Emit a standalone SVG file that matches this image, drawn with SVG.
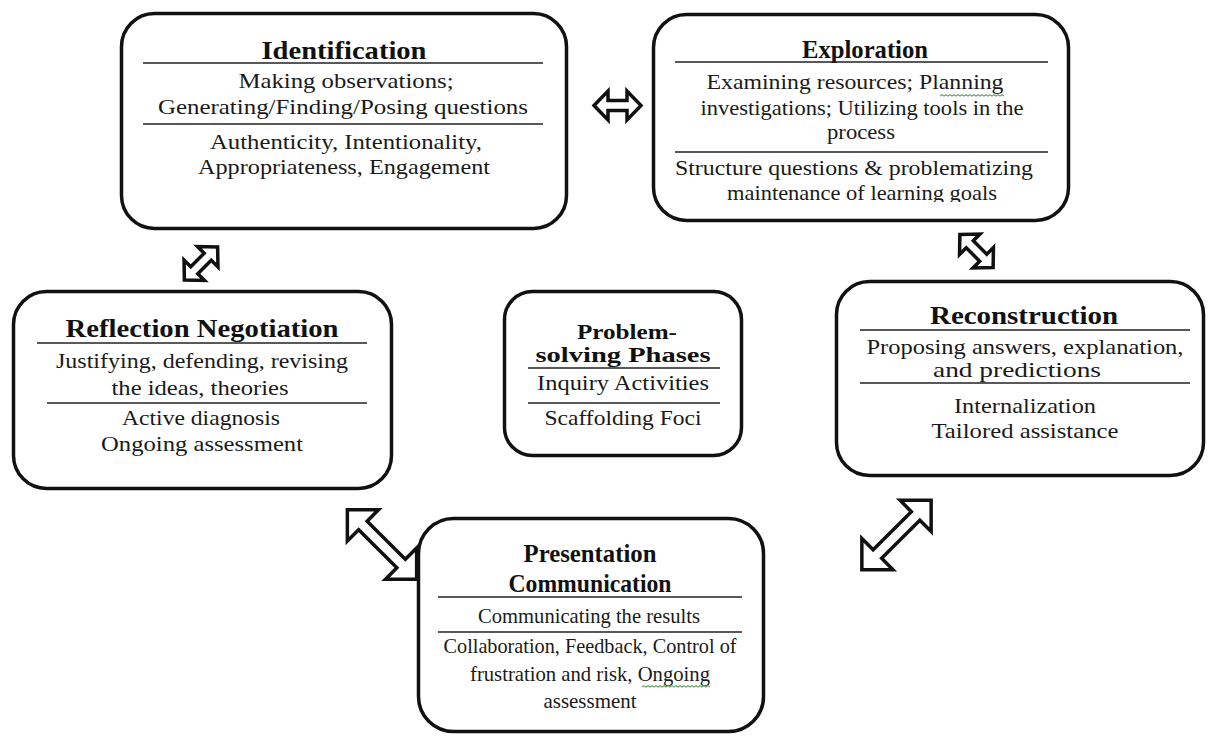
<svg xmlns="http://www.w3.org/2000/svg" xmlns:xlink="http://www.w3.org/1999/xlink" width="1209" height="736" viewBox="0 0 1209 736">
<style>
.box{fill:#fff;stroke:#111;stroke-width:3.5}
.dv{stroke:#222;stroke-width:1.6}
.t{font-family:"Liberation Serif","DejaVu Serif",serif;font-size:21px;fill:#1a1a1a;text-anchor:middle}
.h{font-weight:bold;font-size:25px;fill:#111}
.hs{font-size:20.5px}
.arr{fill:#fff;stroke:#111;stroke-width:3.5;stroke-linejoin:miter}
.sq{fill:none;stroke:#6aa86a;stroke-width:1.2}
</style>
<defs>
<path id="arS" d="M -23.5 0 L -9.5 -14.5 L -9.5 -5 L 9.5 -5 L 9.5 -14.5 L 23.5 0 L 9.5 14.5 L 9.5 5 L -9.5 5 L -9.5 14.5 Z"/>
<path id="arL" d="M -49 0 L -27 -22 L -27 -6 L 27 -6 L 27 -22 L 49 0 L 27 22 L 27 6 L -27 6 L -27 22 Z"/>
<clipPath id="clipExp"><rect x="650" y="10" width="430" height="192"/></clipPath>
</defs>
<rect width="1209" height="736" fill="#fff"/>

<g id="connectors">
<use xlink:href="#arS" class="arr" transform="translate(617.5,105.5)"/>
<use xlink:href="#arS" class="arr" transform="translate(201,263.5) rotate(-45)"/>
<use xlink:href="#arS" class="arr" transform="translate(976.5,251) rotate(45)"/>
<use xlink:href="#arL" class="arr" transform="translate(382,544.5) rotate(45)"/>
<use xlink:href="#arL" class="arr" transform="translate(896.5,535) rotate(-45)"/>
</g>

<g id="identification">
<rect class="box" x="121.5" y="13.5" width="445" height="215" rx="33"/>
<text class="t h" x="344" y="59" textLength="165" lengthAdjust="spacingAndGlyphs">Identification</text>
<line class="dv" x1="143" y1="63" x2="543" y2="63"/>
<text class="t" x="346" y="88" textLength="215" lengthAdjust="spacingAndGlyphs">Making observations;</text>
<text class="t" x="343" y="114" textLength="370" lengthAdjust="spacingAndGlyphs">Generating/Finding/Posing questions</text>
<line class="dv" x1="143" y1="124" x2="543" y2="124"/>
<text class="t" x="346" y="149" textLength="272" lengthAdjust="spacingAndGlyphs">Authenticity, Intentionality,</text>
<text class="t" x="344" y="174" textLength="292" lengthAdjust="spacingAndGlyphs">Appropriateness, Engagement</text>
</g>

<g id="exploration">
<rect class="box" x="653.5" y="14.5" width="415" height="206" rx="33"/>
<text class="t h" x="865" y="58" textLength="126" lengthAdjust="spacingAndGlyphs">Exploration</text>
<line class="dv" x1="675" y1="62" x2="1048" y2="62"/>
<text class="t" x="855" y="89" textLength="297" lengthAdjust="spacingAndGlyphs">Examining resources; Planning</text>
<path class="sq" d="M940 96 l2 -1.3 l2 1.3 l2 -1.3 l2 1.3 l2 -1.3 l2 1.3 l2 -1.3 l2 1.3 l2 -1.3 l2 1.3 l2 -1.3 l2 1.3 l2 -1.3 l2 1.3 l2 -1.3 l2 1.3 l2 -1.3 l2 1.3 l2 -1.3 l2 1.3 l2 -1.3 l2 1.3 l2 -1.3 l2 1.3 l2 -1.3 l2 1.3 l2 -1.3 l2 1.3 l2 -1.3 l2 1.3 l2 -1.3 l2 1.3"/>
<text class="t" x="862" y="115" textLength="323" lengthAdjust="spacingAndGlyphs">investigations; Utilizing tools in the</text>
<text class="t" x="861" y="139" textLength="68" lengthAdjust="spacingAndGlyphs">process</text>
<line class="dv" x1="675" y1="152" x2="1048" y2="152"/>
<text class="t" x="854" y="175" textLength="358" lengthAdjust="spacingAndGlyphs">Structure questions &amp; problematizing</text>
<text class="t" x="862" y="200" textLength="270" lengthAdjust="spacingAndGlyphs" clip-path="url(#clipExp)">maintenance of learning goals</text>
</g>

<g id="reflection">
<rect class="box" x="13.5" y="291.5" width="378" height="197" rx="33"/>
<text class="t h" x="202" y="337" textLength="273" lengthAdjust="spacingAndGlyphs">Reflection Negotiation</text>
<line class="dv" x1="37" y1="343" x2="367" y2="343"/>
<text class="t" x="202" y="368" textLength="292" lengthAdjust="spacingAndGlyphs">Justifying, defending, revising</text>
<text class="t" x="200" y="395" textLength="177" lengthAdjust="spacingAndGlyphs">the ideas, theories</text>
<line class="dv" x1="47" y1="403" x2="367" y2="403"/>
<text class="t" x="201" y="425" textLength="158" lengthAdjust="spacingAndGlyphs">Active diagnosis</text>
<text class="t" x="202" y="451" textLength="202" lengthAdjust="spacingAndGlyphs">Ongoing assessment</text>
</g>

<g id="problem-solving">
<rect class="box" x="504.5" y="291.5" width="237" height="164" rx="28"/>
<text class="t h hs" x="627" y="339" textLength="100" lengthAdjust="spacingAndGlyphs">Problem-</text>
<text class="t h hs" x="623" y="362" textLength="175" lengthAdjust="spacingAndGlyphs">solving Phases</text>
<line class="dv" x1="528" y1="368" x2="720" y2="368"/>
<text class="t" x="623" y="390" textLength="172" lengthAdjust="spacingAndGlyphs">Inquiry Activities</text>
<line class="dv" x1="528" y1="403" x2="720" y2="403"/>
<text class="t" x="623" y="425" textLength="157" lengthAdjust="spacingAndGlyphs">Scaffolding Foci</text>
</g>

<g id="reconstruction">
<rect class="box" x="836.5" y="281.5" width="367" height="194" rx="33"/>
<text class="t h" x="1024" y="324" textLength="188" lengthAdjust="spacingAndGlyphs">Reconstruction</text>
<line class="dv" x1="860" y1="330" x2="1190" y2="330"/>
<text class="t" x="1025" y="354" textLength="317" lengthAdjust="spacingAndGlyphs">Proposing answers, explanation,</text>
<text class="t" x="1017" y="377" textLength="168" lengthAdjust="spacingAndGlyphs">and predictions</text>
<line class="dv" x1="860" y1="383" x2="1190" y2="383"/>
<text class="t" x="1025" y="413" textLength="142" lengthAdjust="spacingAndGlyphs">Internalization</text>
<text class="t" x="1025" y="438" textLength="187" lengthAdjust="spacingAndGlyphs">Tailored assistance</text>
</g>

<g id="presentation">
<rect class="box" x="418.5" y="518.5" width="345" height="213" rx="35"/>
<text class="t h" x="590" y="562" textLength="133" lengthAdjust="spacingAndGlyphs">Presentation</text>
<text class="t h" x="590" y="592" textLength="163" lengthAdjust="spacingAndGlyphs">Communication</text>
<line class="dv" x1="438" y1="597" x2="742" y2="597"/>
<text class="t" x="589" y="623" textLength="222" lengthAdjust="spacingAndGlyphs">Communicating the results</text>
<line class="dv" x1="438" y1="632" x2="742" y2="632"/>
<text class="t" x="590" y="653" textLength="293" lengthAdjust="spacingAndGlyphs">Collaboration, Feedback, Control of</text>
<text class="t" x="590" y="681" textLength="240" lengthAdjust="spacingAndGlyphs">frustration and risk, Ongoing</text>
<path class="sq" d="M642 687 l2 -1.3 l2 1.3 l2 -1.3 l2 1.3 l2 -1.3 l2 1.3 l2 -1.3 l2 1.3 l2 -1.3 l2 1.3 l2 -1.3 l2 1.3 l2 -1.3 l2 1.3 l2 -1.3 l2 1.3 l2 -1.3 l2 1.3 l2 -1.3 l2 1.3 l2 -1.3 l2 1.3 l2 -1.3 l2 1.3 l2 -1.3 l2 1.3 l2 -1.3 l2 1.3 l2 -1.3 l2 1.3 l2 -1.3 l2 1.3 l2 -1.3 l2 1.3"/>
<text class="t" x="590" y="708" textLength="93" lengthAdjust="spacingAndGlyphs">assessment</text>
</g>
</svg>
